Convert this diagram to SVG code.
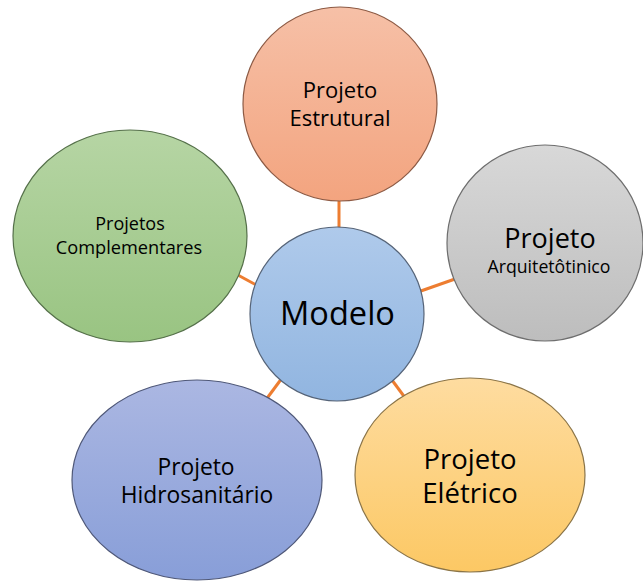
<svg xmlns="http://www.w3.org/2000/svg" width="643" height="581" viewBox="0 0 643 581">
  <defs>
    <linearGradient id="gOrange" x1="0" y1="0" x2="0" y2="1">
      <stop offset="0" stop-color="#f6c0a7"/>
      <stop offset="1" stop-color="#f3a47f"/>
    </linearGradient>
    <linearGradient id="gGreen" x1="0" y1="0" x2="0" y2="1">
      <stop offset="0" stop-color="#b6d5a4"/>
      <stop offset="1" stop-color="#99c482"/>
    </linearGradient>
    <linearGradient id="gBlue" x1="0" y1="0" x2="0" y2="1">
      <stop offset="0" stop-color="#afcaeb"/>
      <stop offset="1" stop-color="#91b5e0"/>
    </linearGradient>
    <linearGradient id="gGray" x1="0" y1="0" x2="0" y2="1">
      <stop offset="0" stop-color="#d8d8d8"/>
      <stop offset="1" stop-color="#bdbdbd"/>
    </linearGradient>
    <linearGradient id="gYellow" x1="0" y1="0" x2="0" y2="1">
      <stop offset="0" stop-color="#fedca0"/>
      <stop offset="1" stop-color="#fcc864"/>
    </linearGradient>
    <linearGradient id="gPurple" x1="0" y1="0" x2="0" y2="1">
      <stop offset="0" stop-color="#abb7e2"/>
      <stop offset="1" stop-color="#889ed8"/>
    </linearGradient>
  </defs>
  <style>
    .link { stroke: #ed7d31; stroke-width: 3; fill: none; }
    .shape { stroke-width: 1.2; }
    text { font-family: "Open Sans", "Liberation Sans", sans-serif; fill: #000; text-anchor: middle; }
  </style>

  <rect width="643" height="581" fill="#ffffff"/>

  <!-- connectors from the central node to each satellite -->
  <g id="connectors">
    <line class="link" x1="339" y1="195" x2="339" y2="232"/>
    <line class="link" x1="236" y1="274" x2="258" y2="286"/>
    <line class="link" x1="418" y1="292" x2="455" y2="279"/>
    <line class="link" x1="389" y1="376" x2="406" y2="399"/>
    <line class="link" x1="265" y1="401" x2="285" y2="374"/>
  </g>

  <g id="estrutural">
    <circle class="shape" cx="340" cy="104" r="97" fill="url(#gOrange)" stroke="#8c5a44"/>
    <text font-size="22" x="340" y="98">Projeto</text>
    <text font-size="22" x="340" y="126">Estrutural</text>
  </g>

  <g id="complementares">
    <ellipse class="shape" cx="130" cy="236" rx="117" ry="106" fill="url(#gGreen)" stroke="#55704a"/>
    <text font-size="18" x="130" y="230">Projetos</text>
    <text font-size="18.2" x="129" y="254">Complementares</text>
  </g>

  <g id="arquitetonico">
    <circle class="shape" cx="545" cy="243" r="98" fill="url(#gGray)" stroke="#6e6e6e"/>
    <text font-size="27" x="550" y="248">Projeto</text>
    <text font-size="17.7" x="549" y="273">Arquitetôtinico</text>
  </g>

  <g id="eletrico">
    <ellipse class="shape" cx="470" cy="475" rx="115" ry="97" fill="url(#gYellow)" stroke="#8a7448"/>
    <text font-size="27.5" x="470" y="469">Projeto</text>
    <text font-size="27.5" x="470" y="503">Elétrico</text>
  </g>

  <g id="hidrosanitario">
    <ellipse class="shape" cx="197" cy="480" rx="125" ry="100" fill="url(#gPurple)" stroke="#4f5878"/>
    <text font-size="22.8" x="196" y="475">Projeto</text>
    <text font-size="22.8" x="197" y="503">Hidrosanitário</text>
  </g>

  <g id="modelo">
    <circle class="shape" cx="337" cy="314" r="87" fill="url(#gBlue)" stroke="#566478"/>
    <text font-size="32.6" x="337.5" y="325">Modelo</text>
  </g>
</svg>
